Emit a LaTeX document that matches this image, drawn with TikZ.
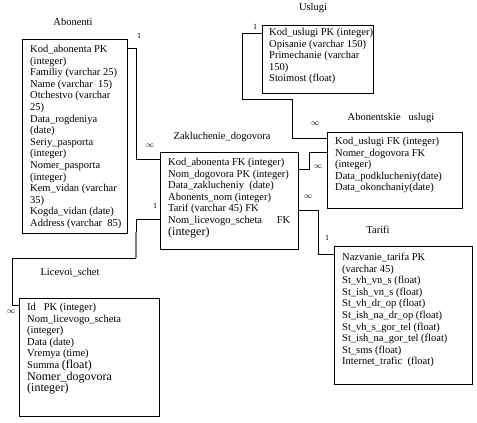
\documentclass[tikz,border=0pt]{standalone}
\usepackage{fontspec}
\setmainfont{Liberation Serif}
\usetikzlibrary{calc}

\tikzset{
    tablebox/.style={draw, line width=0.8pt, inner sep=0pt, anchor=north west},
    fieldlist/.style={anchor=north west, inner sep=0pt, align=left,
        font=\fontsize{10.5}{11.6}\selectfont},
    tabletitle/.style={inner sep=0pt, font=\fontsize{10.5}{12}\selectfont},
    link/.style={draw, line width=0.8pt},
    cardlabel/.style={inner sep=0pt, font=\fontsize{8}{9}\selectfont}
}
\newcommand{\bigtxt}[1]{{\fontsize{12}{13}\selectfont #1}}

\begin{document}
\begin{tikzpicture}[x=1pt, y=-1pt]
        \useasboundingbox (0,0) rectangle (477,423);
        % tables
        \node[tablebox, minimum width=105pt, minimum height=194pt] (abonenti) at (22,39) {};
        \node[tablebox, minimum width=138pt, minimum height=97pt] (zakl) at (160,152) {};
        \node[tablebox, minimum width=111pt, minimum height=68pt] (uslugi) at (262,25) {};
        \node[tablebox, minimum width=135pt, minimum height=76pt] (abusl) at (327,132) {};
        \node[tablebox, minimum width=138pt, minimum height=138pt] (tarifi) at (334,246) {};
        \node[tablebox, minimum width=140pt, minimum height=118pt] (licevoi) at (19,298) {};
        % titles
        \node[tabletitle] (abonentiT) at (73,22) {Abonenti};
        \node[tabletitle] (zaklT) at (222,137) {Zakluchenie\_dogovora};
        \node[tabletitle] (uslugiT) at (313,8) {Uslugi};
        \node[tabletitle] (abuslT) at (391,118) {Abonentskie\ \ \ uslugi};
        \node[tabletitle] (tarifiT) at (378,230) {Tarifi};
        \node[tabletitle] (licevoiT) at (70,273) {Licevoi\_schet};
        % fields
        \node[fieldlist] (abonentiF) at ($(abonenti.north west)+(8,6)$) {%
            Kod\_abonenta PK\\(integer)\\Familiy (varchar 25)\\Name (varchar\ \ 15)\\%
            Otchestvo (varchar\\25)\\Data\_rogdeniya\\(date)\\Seriy\_pasporta\\(integer)\\%
            Nomer\_pasporta\\(integer)\\Kem\_vidan (varchar\\35)\\Kogda\_vidan (date)\\%
            Address (varchar\ \ 85)};
        \node[fieldlist] (zaklF) at ($(zakl.north west)+(8,6)$) {%
            Kod\_abonenta FK (integer)\\Nom\_dogovora PK (integer)\\%
            Data\_zaklucheniy\ \ (date)\\Abonents\_nom (integer)\\Tarif (varchar 45) FK\\%
            \makebox[122pt][l]{Nom\_licevogo\_scheta\hfill FK}\\\bigtxt{(integer)}};
        \node[fieldlist] (uslugiF) at ($(uslugi.north west)+(7,3)$) {%
            Kod\_uslugi PK (integer)\\Opisanie (varchar 150)\\Primechanie (varchar\\%
            150)\\Stoimost (float)};
        \node[fieldlist] (abuslF) at ($(abusl.north west)+(8,5)$) {%
            Kod\_uslugi FK (integer)\\Nomer\_dogovora FK\\(integer)\\%
            Data\_podklucheniy(date)\\Data\_okonchaniy(date)};
        \node[fieldlist] (tarifiF) at ($(tarifi.north west)+(8,7)$) {%
            Nazvanie\_tarifa PK\\(varchar 45)\\St\_vh\_vn\_s (float)\\St\_ish\_vn\_s (float)\\%
            St\_vh\_dr\_op (float)\\St\_ish\_na\_dr\_op (float)\\St\_vh\_s\_gor\_tel (float)\\%
            St\_ish\_na\_gor\_tel (float)\\St\_sms (float)\\Internet\_trafic\ \ (float)};
        \node[fieldlist] (licevoiF) at ($(licevoi.north west)+(8,5)$) {%
            Id\ \ \ PK (integer)\\Nom\_licevogo\_scheta\\(integer)\\Data (date)\\%
            Vremya (time)\\Summa \bigtxt{(float)}\\\bigtxt{Nomer\_dogovora}\\\bigtxt{(integer)}};
        % links
        \draw[link] ($(abonenti.north east)+(0,9)$) -- ++(9,0) |- ($(zakl.north west)+(0,7)$);
        \draw[link] ($(zakl.north west)+(0,67)$) -| (136,232) coordinate (bendA);
        \draw[link, gray, line width=1.4pt] (bendA) -- ++(0,26) coordinate (bendB);
        \draw[link] (bendB) -| ++(-124,47) -- ($(licevoi.north west)+(0,7)$);
        \draw[link] ($(uslugi.north west)+(0,8)$) -- ++(-20,0) |- (292,99) coordinate (bendC);
        \draw[link] (bendC) |- ($(abusl.north west)+(0,6)$);
        \draw[link] ($(zakl.north east)+(0,17)$) -- ++(11,0) |- ($(abusl.north west)+(0,20)$);
        \draw[link] ($(zakl.north east)+(0,58)$) -- ++(20,0) |- ($(tarifi.north west)+(0,8)$);
        % cardinalities
        \node[cardlabel] (c1) at (139,36) {1};
        \node[cardlabel] (c2) at (150,146) {$\infty$};
        \node[cardlabel] (c3) at (155,206) {1};
        \node[cardlabel] (c4) at (11,312) {$\infty$};
        \node[cardlabel] (c5) at (255,27) {1};
        \node[cardlabel] (c6) at (315,124) {$\infty$};
        \node[cardlabel] (c7) at (318,167) {$\infty$};
        \node[cardlabel] (c8) at (308,197) {$\infty$};
        \node[cardlabel] (c9) at (327,238) {1};
  \end{tikzpicture}
\end{document}
